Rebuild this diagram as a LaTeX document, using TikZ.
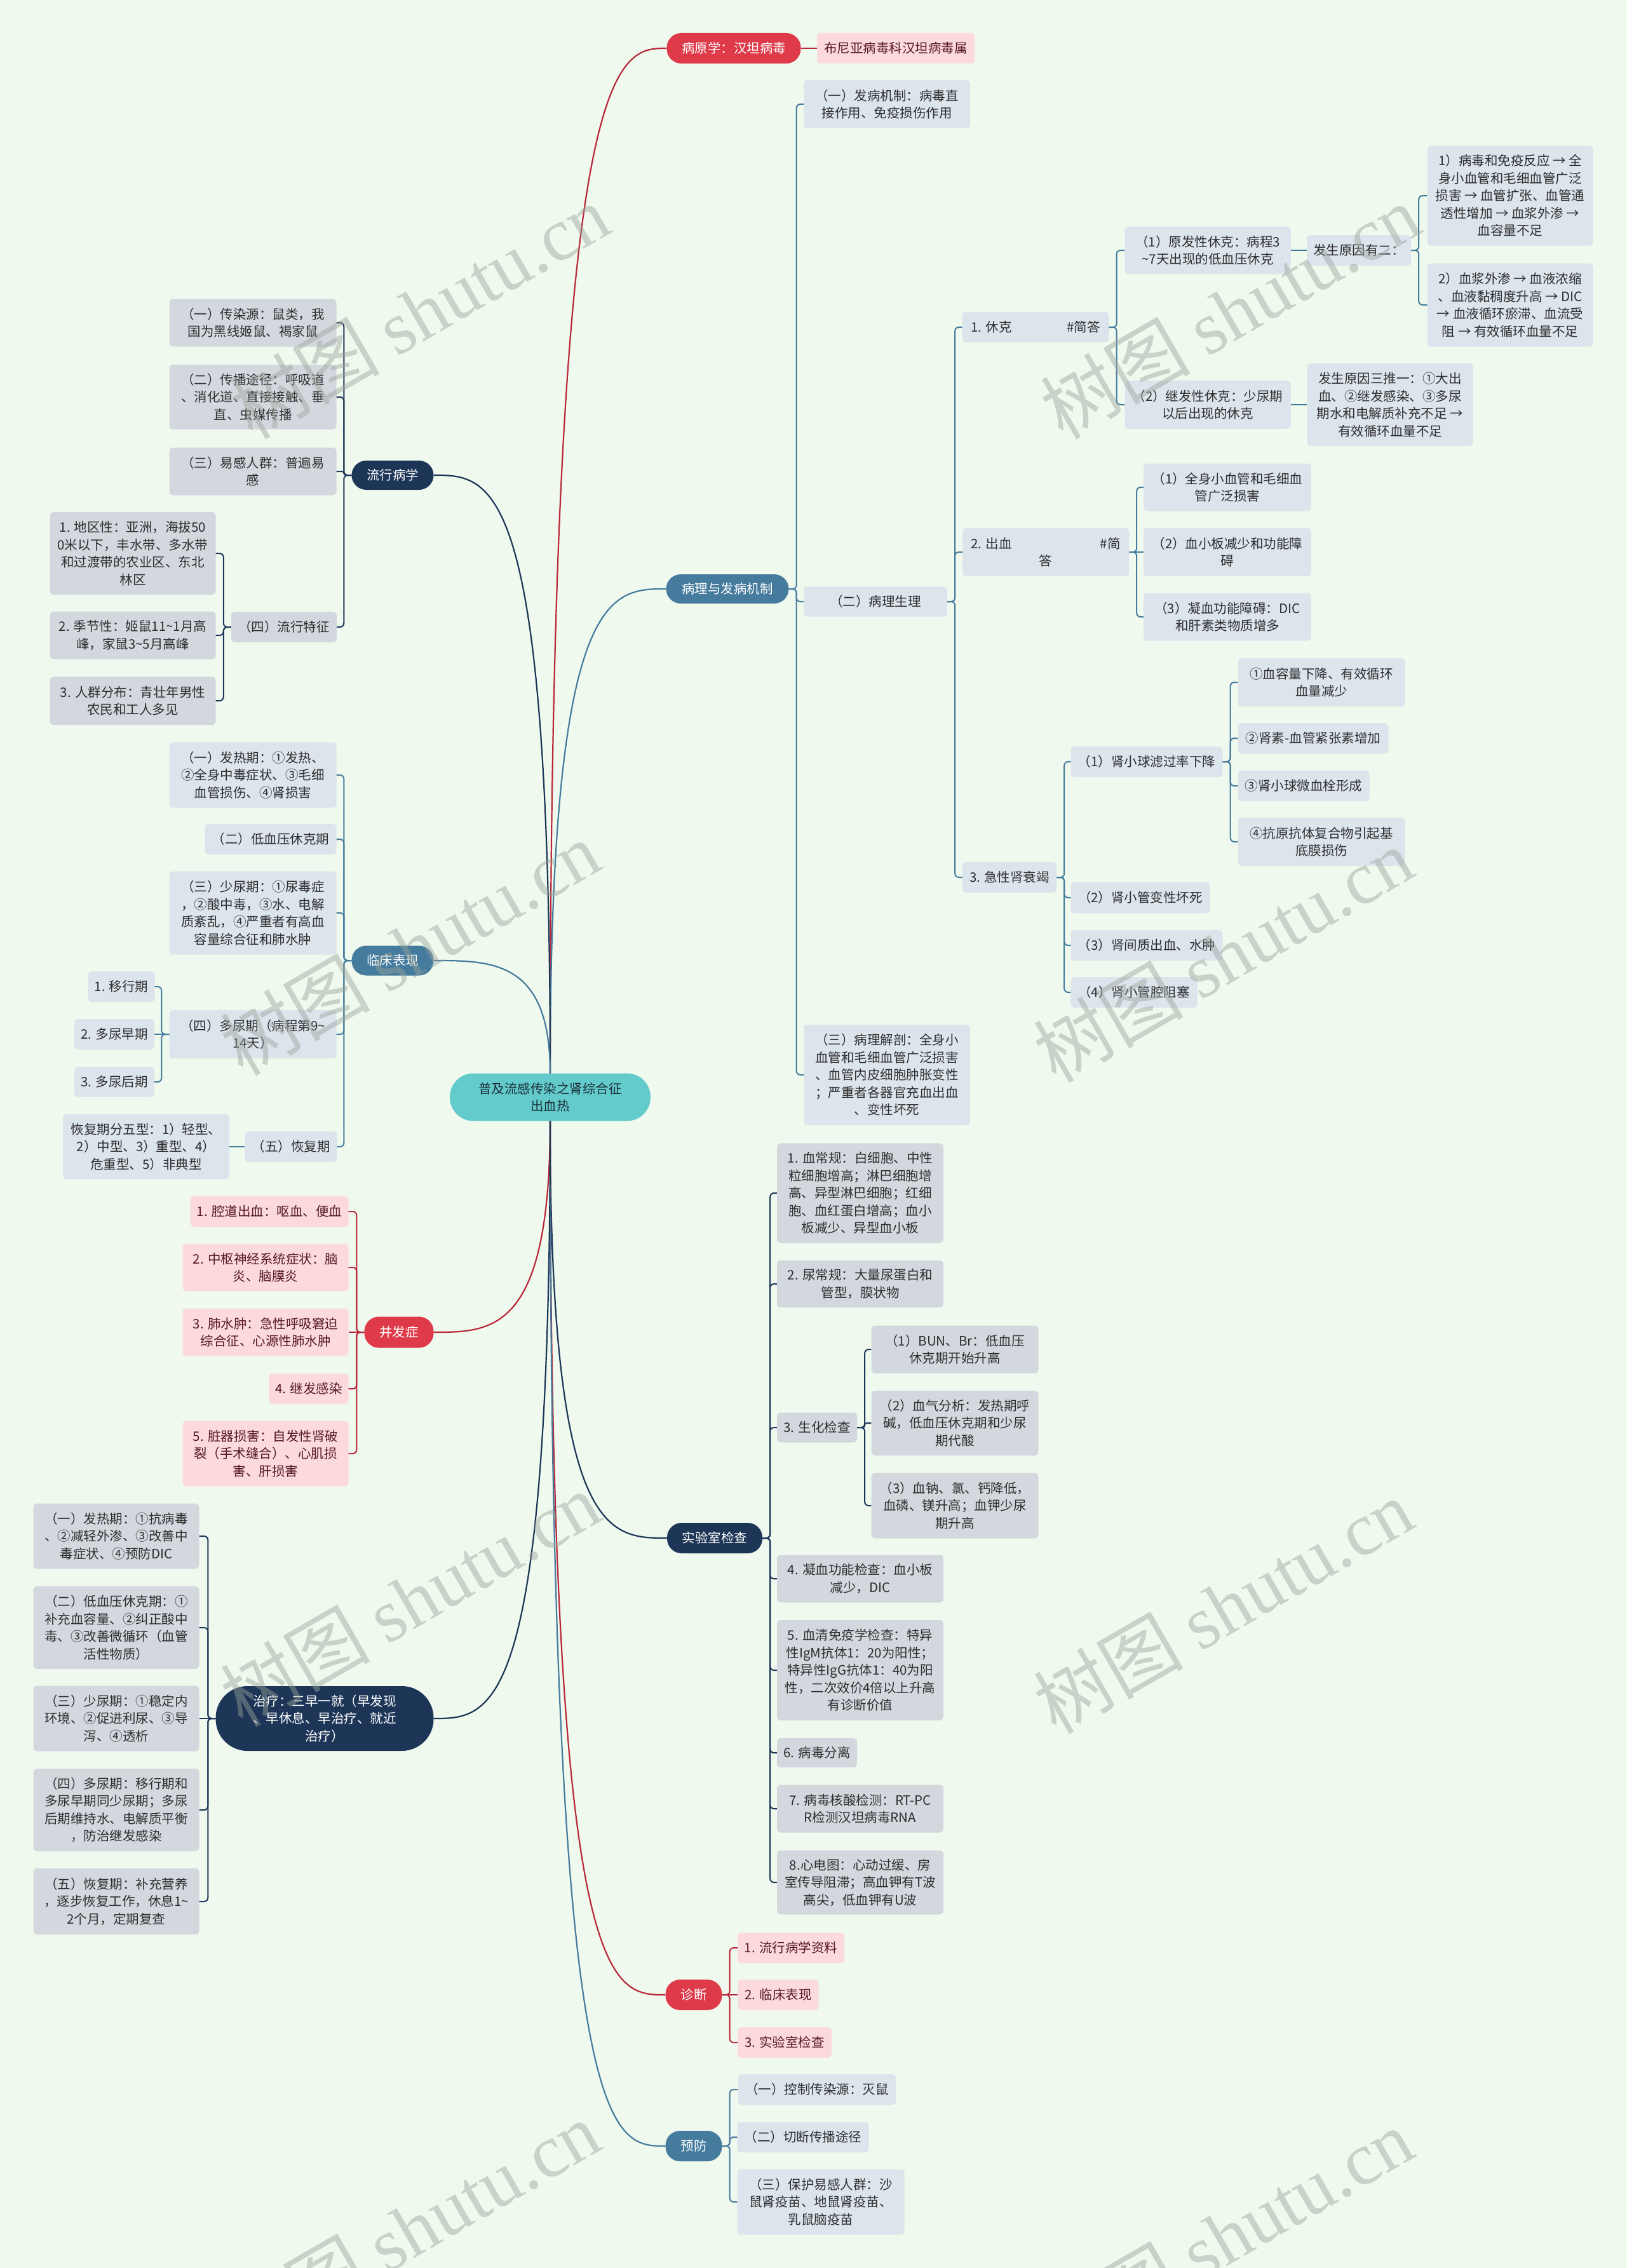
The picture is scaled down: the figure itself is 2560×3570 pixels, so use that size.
\documentclass[tikz,border=0pt]{standalone}
\usepackage{fontspec}
\newfontfamily\cjk{Noto Sans CJK SC}
\newfontfamily\wmlat{Liberation Serif}
\definecolor{bgc}{HTML}{F0F9EE}
\definecolor{cred}{HTML}{DF3A4A}
\definecolor{cnavy}{HTML}{1D3557}
\definecolor{csteel}{HTML}{457B9D}
\definecolor{cteal}{HTML}{63CBCC}
\definecolor{lpink}{HTML}{FBD9DD}
\definecolor{lblue}{HTML}{DCE4EC}
\definecolor{lgray}{HTML}{D3D8DF}
\definecolor{txt}{HTML}{2E2E2E}
\definecolor{roottxt}{HTML}{1B2F38}
\definecolor{maroon}{HTML}{561A20}
\definecolor{lred}{HTML}{B8283A}
\definecolor{wm}{HTML}{9AA39A}
\newcommand\tld{\textasciitilde}
\newcommand\nd[7]{\node[#1,minimum width=#5pt,minimum height=#6pt] (#2) at (#3,#4) {#7};}
\newcommand\rcon[3]{\draw[#1] (#2.east) -- ([xshift=12pt]#2.east) |- (#3.west);}
\newcommand\lcon[3]{\draw[#1] (#2.west) -- ([xshift=-12pt]#2.west) |- (#3.east);}
\newcommand\scon[3]{\draw[#1] (#2.east) -- (#3.west);}
\newcommand\slcon[3]{\draw[#1] (#2.west) -- (#3.east);}
\tikzset{
 base/.style={inner sep=0pt,align=center,font=\cjk\fontsize{20.5}{27.5}\selectfont,text=txt},
 pill/.style={base,rounded corners=23pt,text=white},
 redpill/.style={pill,fill=cred},
 navypill/.style={pill,fill=cnavy},
 bluepill/.style={pill,fill=csteel},
 rootpill/.style={base,rounded corners=37pt,fill=cteal,text=roottxt},
 bbox/.style={base,rounded corners=6pt,fill=lblue},
 gbox/.style={base,rounded corners=6pt,fill=lgray},
 pbox/.style={base,rounded corners=6pt,fill=lpink,text=maroon},
 conn/.style={line width=2pt,rounded corners=6pt},
 rline/.style={conn,draw=lred},
 nline/.style={conn,draw=cnavy},
 sline/.style={conn,draw=csteel},
 mainline/.style={line width=2.2pt},
 wmark/.style={text=wm,text opacity=0.45,rotate=30,inner sep=0pt,font=\cjk\fontsize{118}{130}\selectfont}
}
\begin{document}
\begin{tikzpicture}[x=1pt,y=-1pt]
\fill[bgc] (0,0) rectangle (2560,3570);
\useasboundingbox (0,0) rectangle (2560,3570);

% root
\nd{rootpill}{root}{866}{1727}{316}{75}{普及流感传染之肾综合征\\出血热}

% ---------- right side ----------
\nd{redpill}{b1}{1155}{76}{211}{48}{病原学：汉坦病毒}
\nd{pbox}{b1a}{1410}{76}{248}{48}{布尼亚病毒科汉坦病毒属}

\nd{bluepill}{b2}{1145}{927}{193}{46}{病理与发病机制}
\nd{bbox}{b2a}{1396}{164}{262}{76}{（一）发病机制：病毒直\\接作用、免疫损伤作用}
\nd{bbox}{b2b}{1378}{947}{226}{47}{（二）病理生理}
\nd{bbox}{b2c}{1396}{1692}{262}{158}{（三）病理解剖：全身小\\血管和毛细血管广泛损害\\、血管内皮细胞肿胀变性\\；严重者各器官充血出血\\、变性坏死}

\nd{bbox}{sk}{1630}{515}{231}{48}{\makebox[203pt]{1. 休克\hfill\#简答}}
\nd{bbox}{cx}{1646}{869}{262}{76}{\makebox[235pt]{2. 出血\hfill\#简}\\答}
\nd{bbox}{sj}{1589}{1381}{148}{48}{3. 急性肾衰竭}

\nd{bbox}{s1}{1901}{394}{261}{75}{（1）原发性休克：病程3\\\tld7天出现的低血压休克}
\nd{bbox}{s1a}{2139}{394}{164}{48}{发生原因有二：}
\nd{bbox}{s1a1}{2377}{308}{261}{157}{1）病毒和免疫反应 → 全\\身小血管和毛细血管广泛\\损害 → 血管扩张、血管通\\透性增加 → 血浆外渗 →\\血容量不足}
\nd{bbox}{s1a2}{2377}{480}{261}{131}{2）血浆外渗 → 血液浓缩\\、血液黏稠度升高 → DIC\\→ 血液循环瘀滞、血流受\\阻 → 有效循环血量不足}
\nd{bbox}{s2}{1901}{637}{261}{76}{（2）继发性休克：少尿期\\以后出现的休克}
\nd{bbox}{s2a}{2188}{637}{261}{130}{发生原因三推一：①大出\\血、②继发感染、③多尿\\期水和电解质补充不足 →\\有效循环血量不足}

\nd{bbox}{h1}{1932}{767}{264}{75}{（1）全身小血管和毛细血\\管广泛损害}
\nd{bbox}{h2}{1932}{869}{264}{76}{（2）血小板减少和功能障\\碍}
\nd{bbox}{h3}{1932}{971}{264}{75}{（3）凝血功能障碍：DIC\\和肝素类物质增多}

\nd{bbox}{k1}{1805}{1199}{239}{48}{（1）肾小球滤过率下降}
\nd{bbox}{k11}{2080}{1074}{263}{76}{①血容量下降、有效循环\\血量减少}
\nd{bbox}{k12}{2067}{1162}{237}{48}{②肾素-血管紧张素增加}
\nd{bbox}{k13}{2052}{1237}{207}{48}{③肾小球微血栓形成}
\nd{bbox}{k14}{2080}{1325}{263}{76}{④抗原抗体复合物引起基\\底膜损伤}
\nd{bbox}{k2}{1795}{1413}{219}{49}{（2）肾小管变性坏死}
\nd{bbox}{k3}{1805}{1488}{239}{48}{（3）肾间质出血、水肿}
\nd{bbox}{k4}{1785}{1562}{199}{48}{（4）肾小管腔阻塞}

\nd{navypill}{b3}{1125}{2421}{150}{48}{实验室检查}
\nd{gbox}{L1}{1354}{1878}{262}{157}{1. 血常规：白细胞、中性\\粒细胞增高；淋巴细胞增\\高、异型淋巴细胞；红细\\胞、血红蛋白增高；血小\\板减少、异型血小板}
\nd{gbox}{L2}{1354}{2021}{262}{74}{2. 尿常规：大量尿蛋白和\\管型，膜状物}
\nd{gbox}{L3}{1286}{2247}{126}{47}{3. 生化检查}
\nd{gbox}{L31}{1503}{2124}{263}{75}{（1）BUN、Br：低血压\\休克期开始升高}
\nd{gbox}{L32}{1503}{2240}{263}{102}{（2）血气分析：发热期呼\\碱，低血压休克期和少尿\\期代酸}
\nd{gbox}{L33}{1503}{2370}{263}{103}{（3）血钠、氯、钙降低，\\血磷、镁升高；血钾少尿\\期升高}
\nd{gbox}{L4}{1354}{2485}{262}{75}{4. 凝血功能检查：血小板\\减少，DIC}
\nd{gbox}{L5}{1354}{2629}{262}{158}{5. 血清免疫学检查：特异\\性IgM抗体1：20为阳性；\\特异性IgG抗体1：40为阳\\性，二次效价4倍以上升高\\有诊断价值}
\nd{gbox}{L6}{1286}{2759}{126}{46}{6. 病毒分离}
\nd{gbox}{L7}{1354}{2847}{262}{75}{7. 病毒核酸检测：RT-PC\\R检测汉坦病毒RNA}
\nd{gbox}{L8}{1354}{2963}{262}{101}{8.心电图：心动过缓、房\\室传导阻滞；高血钾有T波\\高尖，低血钾有U波}

\nd{redpill}{b4}{1092}{3140}{89}{48}{诊断}
\nd{pbox}{D1}{1245}{3066}{168}{48}{1. 流行病学资料}
\nd{pbox}{D2}{1225}{3140}{127}{48}{2. 临床表现}
\nd{pbox}{D3}{1235}{3215}{148}{48}{3. 实验室检查}

\nd{bluepill}{b5}{1092}{3378}{89}{48}{预防}
\nd{bbox}{P1}{1286}{3289}{249}{48}{（一）控制传染源：灭鼠}
\nd{bbox}{P2}{1264}{3364}{207}{48}{（二）切断传播途径}
\nd{bbox}{P3}{1292}{3466}{263}{103}{（三）保护易感人群：沙\\鼠肾疫苗、地鼠肾疫苗、\\乳鼠脑疫苗}

% ---------- left side ----------
\nd{navypill}{c1}{618}{748}{129}{46}{流行病学}
\nd{gbox}{E1}{398}{508}{263}{75}{（一）传染源：鼠类，我\\国为黑线姬鼠、褐家鼠}
\nd{gbox}{E2}{398}{625}{263}{102}{（二）传播途径：呼吸道\\、消化道、直接接触、垂\\直、虫媒传播}
\nd{gbox}{E3}{398}{742}{263}{75}{（三）易感人群：普遍易\\感}
\nd{gbox}{E4}{447}{987}{166}{48}{（四）流行特征}
\nd{gbox}{E41}{209}{871}{261}{130}{1. 地区性：亚洲，海拔50\\0米以下，丰水带、多水带\\和过渡带的农业区、东北\\林区}
\nd{gbox}{E42}{209}{1000}{261}{75}{2. 季节性：姬鼠11\tld1月高\\峰，家鼠3\tld5月高峰}
\nd{gbox}{E43}{209}{1103}{261}{76}{3. 人群分布：青壮年男性\\农民和工人多见}

\nd{bluepill}{c2}{618}{1512}{129}{47}{临床表现}
\nd{bbox}{C1}{398}{1220}{263}{103}{（一）发热期：①发热、\\②全身中毒症状、③毛细\\血管损伤、④肾损害}
\nd{bbox}{C2}{426}{1321}{207}{48}{（二）低血压休克期}
\nd{bbox}{C3}{398}{1437}{263}{131}{（三）少尿期：①尿毒症\\，②酸中毒，③水、电解\\质紊乱，④严重者有高血\\容量综合征和肺水肿}
\nd{bbox}{C4}{398}{1628}{263}{76}{（四）多尿期（病程第9\tld\\14天）}
\nd{bbox}{C41}{191}{1553}{105}{48}{1. 移行期}
\nd{bbox}{C42}{180}{1628}{126}{48}{2. 多尿早期}
\nd{bbox}{C43}{180}{1703}{126}{47}{3. 多尿后期}
\nd{bbox}{C5}{458}{1805}{145}{48}{（五）恢复期}
\nd{bbox}{C51}{230}{1805}{262}{102}{恢复期分五型：1）轻型、\\2）中型、3）重型、4）\\危重型、5）非典型}

\nd{redpill}{c3}{628}{2097}{109}{49}{并发症}
\nd{pbox}{F1}{424}{1907}{249}{48}{1. 腔道出血：呕血、便血}
\nd{pbox}{F2}{418}{1995}{261}{75}{2. 中枢神经系统症状：脑\\炎、脑膜炎}
\nd{pbox}{F3}{418}{2097}{261}{75}{3. 肺水肿：急性呼吸窘迫\\综合征、心源性肺水肿}
\nd{pbox}{F4}{486}{2186}{125}{48}{4. 继发感染}
\nd{pbox}{F5}{418}{2288}{261}{103}{5. 脏器损害：自发性肾破\\裂（手术缝合）、心肌损\\害、肝损害}

\nd{navypill,rounded corners=50pt}{c4}{511}{2705}{343}{102}{治疗：三早一就（早发现\\、早休息、早治疗、就近\\治疗）}
\nd{gbox}{T1}{183}{2418}{261}{103}{（一）发热期：①抗病毒\\、②减轻外渗、③改善中\\毒症状、④预防DIC}
\nd{gbox}{T2}{183}{2562}{261}{130}{（二）低血压休克期：①\\补充血容量、②纠正酸中\\毒、③改善微循环（血管\\活性物质）}
\nd{gbox}{T3}{183}{2705}{261}{103}{（三）少尿期：①稳定内\\环境、②促进利尿、③导\\泻、④透析}
\nd{gbox}{T4}{183}{2849}{261}{130}{（四）多尿期：移行期和\\多尿早期同少尿期；多尿\\后期维持水、电解质平衡\\，防治继发感染}
\nd{gbox}{T5}{183}{2993}{261}{104}{（五）恢复期：补充营养\\，逐步恢复工作，休息1\tld\\2个月，定期复查}

% ---------- main curves ----------
\draw[mainline,lred] (root.north) .. controls (866,76) and (970,76) .. (b1.west);
\draw[mainline,csteel] (root.north) .. controls (866,927) and (960,927) .. (b2.west);
\draw[mainline,cnavy] (root.north) .. controls (866,748) and (775,748) .. (c1.east);
\draw[mainline,csteel] (root.north) .. controls (866,1512) and (775,1512) .. (c2.east);
\draw[mainline,cnavy] (root.south) .. controls (866,2421) and (958,2421) .. (b3.west);
\draw[mainline,lred] (root.south) .. controls (866,3140) and (960,3140) .. (b4.west);
\draw[mainline,csteel] (root.south) .. controls (866,3378) and (960,3378) .. (b5.west);
\draw[mainline,lred] (root.south) .. controls (866,2097) and (775,2097) .. (c3.east);
\draw[mainline,cnavy] (root.south) .. controls (866,2705) and (775,2705) .. (c4.east);

% ---------- child connectors ----------
\scon{rline}{b1}{b1a}
\rcon{sline}{b2}{b2a}
\rcon{sline}{b2}{b2b}
\rcon{sline}{b2}{b2c}
\rcon{sline}{b2b}{sk}
\rcon{sline}{b2b}{cx}
\rcon{sline}{b2b}{sj}
\rcon{sline}{sk}{s1}
\rcon{sline}{sk}{s2}
\scon{sline}{s1}{s1a}
\rcon{sline}{s1a}{s1a1}
\rcon{sline}{s1a}{s1a2}
\scon{sline}{s2}{s2a}
\rcon{sline}{cx}{h1}
\scon{sline}{cx}{h2}
\rcon{sline}{cx}{h3}
\rcon{sline}{sj}{k1}
\rcon{sline}{sj}{k2}
\rcon{sline}{sj}{k3}
\rcon{sline}{sj}{k4}
\rcon{sline}{k1}{k11}
\rcon{sline}{k1}{k12}
\rcon{sline}{k1}{k13}
\rcon{sline}{k1}{k14}

\rcon{nline}{b3}{L1}
\rcon{nline}{b3}{L2}
\rcon{nline}{b3}{L3}
\rcon{nline}{b3}{L4}
\rcon{nline}{b3}{L5}
\rcon{nline}{b3}{L6}
\rcon{nline}{b3}{L7}
\rcon{nline}{b3}{L8}
\rcon{nline}{L3}{L31}
\rcon{nline,rounded corners=3pt}{L3}{L32}
\rcon{nline}{L3}{L33}

\rcon{rline}{b4}{D1}
\scon{rline}{b4}{D2}
\rcon{rline}{b4}{D3}

\rcon{sline}{b5}{P1}
\rcon{sline}{b5}{P2}
\rcon{sline}{b5}{P3}

\lcon{nline}{c1}{E1}
\lcon{nline}{c1}{E2}
\lcon{nline,rounded corners=3pt}{c1}{E3}
\lcon{nline}{c1}{E4}
\lcon{nline}{E4}{E41}
\lcon{nline}{E4}{E42}
\lcon{nline}{E4}{E43}

\lcon{sline}{c2}{C1}
\lcon{sline}{c2}{C2}
\lcon{sline}{c2}{C3}
\lcon{sline}{c2}{C4}
\lcon{sline}{c2}{C5}
\lcon{sline}{C4}{C41}
\slcon{sline}{C4}{C42}
\lcon{sline}{C4}{C43}
\slcon{sline}{C5}{C51}

\lcon{rline}{c3}{F1}
\lcon{rline}{c3}{F2}
\slcon{rline}{c3}{F3}
\lcon{rline}{c3}{F4}
\lcon{rline}{c3}{F5}

\lcon{nline}{c4}{T1}
\lcon{nline}{c4}{T2}
\slcon{nline}{c4}{T3}
\lcon{nline}{c4}{T4}
\lcon{nline}{c4}{T5}

% ---------- watermarks ----------
\node[wmark] (w1) at (660,490) {树图 {\wmlat shutu.cn}};
\node[wmark] (w2) at (1936,490) {树图 {\wmlat shutu.cn}};
\node[wmark] (w3) at (645,1492) {树图 {\wmlat shutu.cn}};
\node[wmark] (w4) at (1925,1503) {树图 {\wmlat shutu.cn}};
\node[wmark] (w5) at (645,2517) {树图 {\wmlat shutu.cn}};
\node[wmark] (w6) at (1925,2528) {树图 {\wmlat shutu.cn}};
\node[wmark] (w7) at (645,3507) {树图 {\wmlat shutu.cn}};
\node[wmark] (w8) at (1925,3519) {树图 {\wmlat shutu.cn}};
\end{tikzpicture}
\end{document}
